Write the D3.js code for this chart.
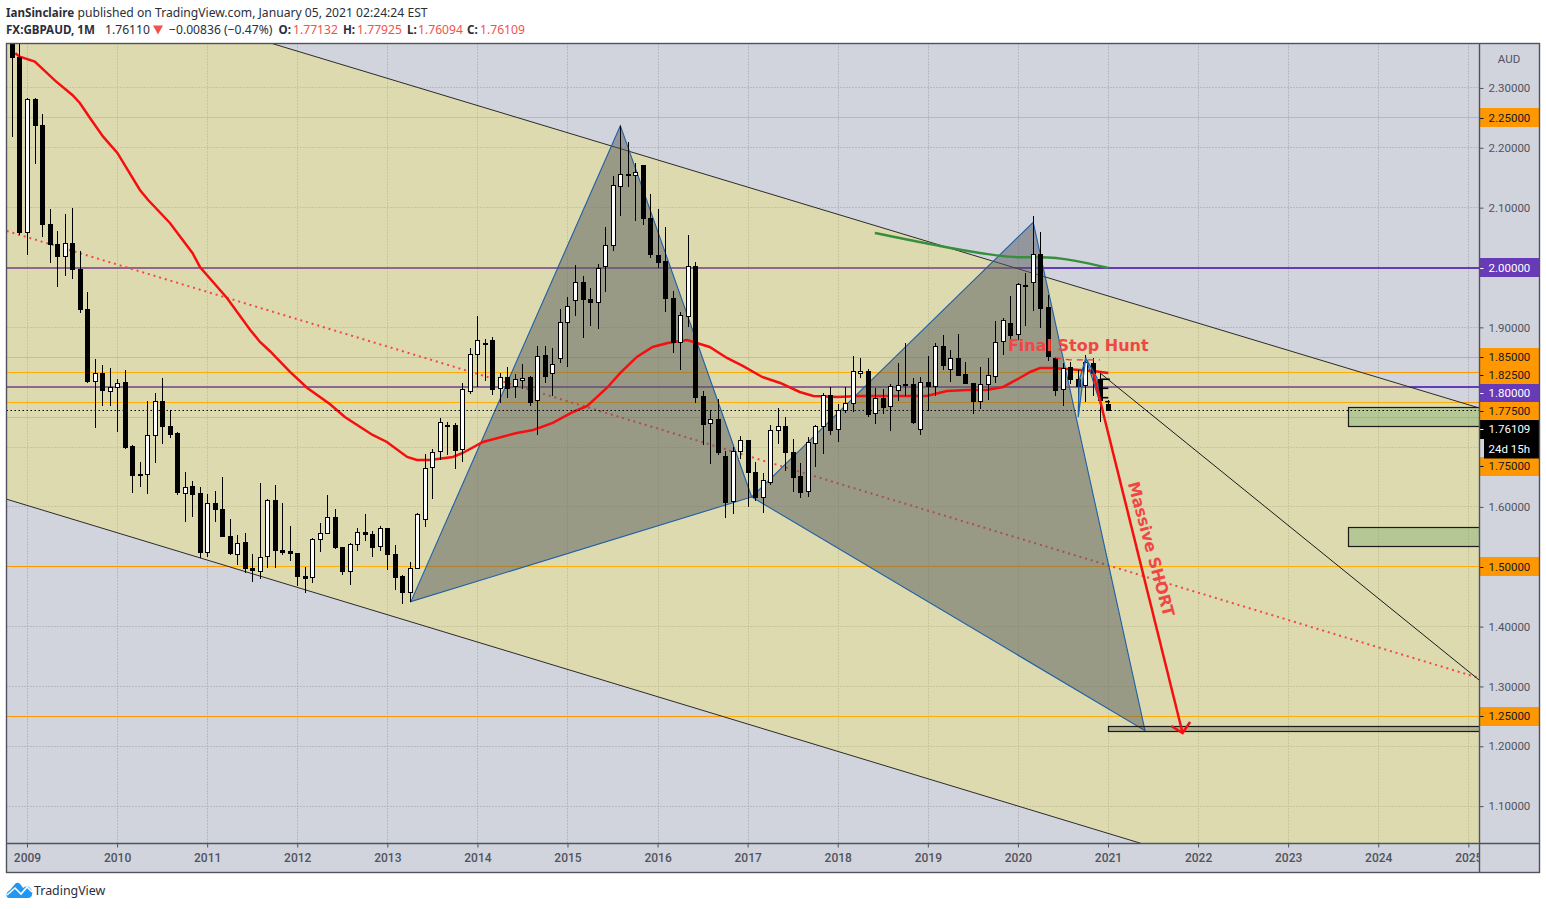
<!DOCTYPE html>
<html><head><meta charset="utf-8">
<style>html,body{margin:0;padding:0;background:#fff}svg{display:block}</style>
<script src="https://cdn.jsdelivr.net/npm/d3@7/dist/d3.min.js"></script>
</head><body><svg id="c" width="1546" height="909"></svg>
<script>
// Monthly bars, first bar Nov 2008 (month index -2; index 0 = Jan 2009)
const firstMonth = -2;
const opens = [2.3969,2.3513,
2.0582,2.2811,2.2376,2.0722,2.0388,2.0181,2.0405,1.9970,1.9302,1.8092,1.8233,1.7942,
1.8009,1.8088,1.7018,1.6550,1.6539,1.7197,1.7765,1.7352,1.7230,1.6238,1.6350,1.6228,
1.5236,1.6061,1.5961,1.5510,1.5225,1.5409,1.4975,1.4935,1.5169,1.6111,1.5281,1.5259,
1.5225,1.4846,1.4824,1.5459,1.5560,1.5827,1.5326,1.4918,1.5376,1.5576,1.5548,1.5336,
1.5643,1.5214,1.4846,1.4567,1.4968,1.5793,1.6672,1.6923,1.7361,1.7369,1.6956,1.7925,
1.8550,1.8731,1.8789,1.7976,1.8166,1.8009,1.8133,1.8171,1.7798,1.8534,1.8233,1.8477,
1.9085,1.9453,1.9753,1.9469,1.9419,2.0021,2.0372,2.1357,2.1554,2.1558,2.1708,2.0823,
2.0209,2.0104,1.9486,1.8751,1.9179,2.0026,1.7848,1.7397,1.7469,1.6851,1.6088,1.6930,
1.7113,1.6579,1.6161,1.6412,1.7280,1.7352,1.6918,1.6517,1.6255,1.7057,1.7341,1.7870,
1.7291,1.7608,1.7725,1.8226,1.8271,1.7565,1.7820,1.7675,1.7942,1.8049,1.8049,1.7297,
1.8083,1.8009,1.8684,1.8293,1.8489,1.8221,1.8066,1.7765,1.8049,1.8199,1.8767,1.9073,
1.8878,1.9700,1.9747,2.0226,1.9336,1.8483,1.7965,1.8333,1.8138,1.8026,1.8400,1.8138,
1.77132];
const highs = [2.4136,2.3969,
2.2828,2.2833,2.2565,2.0978,2.0610,2.0894,2.0995,2.0276,1.9591,1.8467,1.8366,1.8316,
1.8133,1.8288,1.7027,1.6746,1.7765,1.7899,1.8149,1.7615,1.7247,1.6584,1.6433,1.6333,
1.6216,1.6266,1.6500,1.5799,1.5531,1.5560,1.5209,1.6400,1.6128,1.6367,1.6061,1.5682,
1.5230,1.4997,1.5481,1.5727,1.6200,1.5961,1.5336,1.5393,1.5643,1.5882,1.5598,1.5682,
1.5648,1.5364,1.4863,1.5075,1.5894,1.6880,1.6963,1.7486,1.7424,1.7408,1.8076,1.8651,
1.9190,1.8801,1.8834,1.8233,1.8343,1.8221,1.8388,1.8188,1.8689,1.8689,1.8651,1.9302,
1.9513,2.0042,1.9859,1.9658,2.0054,2.0677,2.1529,2.2370,2.2102,2.1742,2.1713,2.1229,
2.0978,2.0677,1.9603,1.9252,2.0544,2.0087,1.7937,1.7620,1.7798,1.6940,1.7006,1.7185,
1.7118,1.6751,1.6562,1.7369,1.7653,1.7498,1.7135,1.6729,1.7174,1.7369,1.7899,1.7999,
1.7720,1.7999,1.8522,1.8483,1.8300,1.7982,1.7966,1.8049,1.8400,1.8734,1.8149,1.8176,
1.8522,1.8734,1.8873,1.8622,1.8890,1.8417,1.8071,1.8333,1.8483,1.9107,1.9162,1.9524,
1.9737,1.9909,2.0861,2.0594,1.9541,1.8510,1.8400,1.8422,1.8288,1.8539,1.8483,1.8238,
1.77925];
const lows = [2.2186,2.0544,
2.0214,2.1735,2.0515,2.0081,1.9680,1.9864,1.9813,1.9245,1.8066,1.7324,1.7687,1.7687,
1.7257,1.6973,1.6238,1.6338,1.6221,1.6739,1.7057,1.7152,1.6195,1.5753,1.5837,1.5142,
1.5164,1.5753,1.5493,1.5192,1.5030,1.4891,1.4751,1.4791,1.4985,1.4985,1.5197,1.5102,
1.4679,1.4557,1.4724,1.5252,1.5560,1.5292,1.4863,1.4701,1.5269,1.5436,1.5169,1.5269,
1.4946,1.4612,1.4383,1.4407,1.4968,1.5670,1.6138,1.6784,1.6868,1.6639,1.6756,1.7887,
1.7999,1.8109,1.7870,1.7732,1.7815,1.7815,1.7971,1.7687,1.7202,1.8071,1.7854,1.8410,
1.8343,1.9195,1.8828,1.9028,1.8978,1.9591,2.0281,2.0866,2.1351,2.0783,2.0716,2.0159,
1.9997,1.9262,1.8577,1.8293,1.9012,1.7742,1.7035,1.6722,1.6873,1.5815,1.5887,1.6801,
1.6004,1.6104,1.5904,1.6372,1.7057,1.6605,1.6255,1.6154,1.6171,1.6672,1.6885,1.7202,
1.7090,1.7575,1.7591,1.8159,1.7503,1.7386,1.7553,1.7269,1.7770,1.7854,1.7386,1.7207,
1.7608,1.7854,1.8288,1.8092,1.8204,1.8066,1.7553,1.7636,1.7787,1.8066,1.8539,1.8778,
1.8789,1.9023,1.9274,1.8985,1.8443,1.7854,1.7692,1.8054,1.7787,1.7758,1.7859,1.7424,
1.76094];
const closes = [2.3513,2.0582,
2.2811,2.2370,2.0716,2.0382,2.0181,2.0405,1.9970,1.9302,1.8092,1.8233,1.7942,1.8009,
1.8076,1.7006,1.6539,1.6539,1.7197,1.7765,1.7341,1.7219,1.6238,1.6338,1.6221,1.5236,
1.6061,1.5961,1.5503,1.5225,1.5403,1.4968,1.4938,1.5169,1.6111,1.5269,1.5252,1.5219,
1.4835,1.4818,1.5459,1.5560,1.5827,1.5319,1.4918,1.5376,1.5576,1.5543,1.5336,1.5643,
1.5202,1.4835,1.4584,1.4975,1.5877,1.6646,1.6923,1.7414,1.7374,1.6956,1.7965,1.8550,
1.8784,1.8739,1.7976,1.8166,1.7976,1.8133,1.8159,1.7753,1.8527,1.8176,1.8383,1.9085,
1.9352,1.9753,1.9463,1.9412,1.9987,2.0372,2.1374,2.1558,2.1558,2.1601,2.0816,2.0214,
2.0097,1.9479,1.8744,1.9202,2.0021,1.7842,1.7374,1.7464,1.6923,1.6088,1.6930,1.7113,
1.6572,1.6161,1.6445,1.7280,1.7347,1.6923,1.6505,1.6255,1.7080,1.7347,1.7865,1.7286,
1.7615,1.7732,1.8266,1.8266,1.7553,1.7815,1.7675,1.8016,1.8032,1.8026,1.7419,1.8083,
1.8009,1.8684,1.8360,1.8483,1.8209,1.8076,1.7758,1.8049,1.8199,1.8761,1.9118,1.8878,
1.9720,1.9703,2.0221,1.9329,1.8510,1.7954,1.8316,1.8126,1.8026,1.8417,1.8233,1.7787,
1.76109];

// EMA: month index and price
const emaMonths = [-1.6,-1,1,3.7,6,7,8.35,10.1,12,15,16.1,19,22,23,26.6,29.7,31,32.3,35,37.3,40.3,42.3,46,47.9,50.6,51.9,53.6,56.7,58,60.7,65.2,67.4,70,72.7,74.6,77.2,79,81.2,83.3,85.3,87.9,90.9,93.2,95.3,97.9,100.3,102.9,104.7,107.9,110.9,117.2,119.8,122.5,125.2,127.8,130,132.2,133.6,134.9,136.6,142,144];
const emaValues = [2.3579,2.3523,2.3439,2.3122,2.2883,2.2749,2.2498,2.2186,2.1914,2.1295,2.1128,2.0744,2.0243,2.0009,1.9491,1.8956,1.8756,1.8605,1.8255,1.7987,1.7720,1.7503,1.7202,1.7085,1.6834,1.6784,1.6784,1.6834,1.6901,1.7085,1.7235,1.7286,1.7403,1.7586,1.7687,1.7987,1.8238,1.8505,1.8672,1.8739,1.8789,1.8672,1.8489,1.8355,1.8171,1.8071,1.7920,1.7854,1.7837,1.7854,1.7854,1.7854,1.7937,1.7954,1.7954,1.8004,1.8154,1.8254,1.8321,1.8321,1.8271,1.8238];
const greenMonths = [112.9,120.2,126.9,132.2,134.9,144];
const greenValues = [2.0577,2.0393,2.0243,2.0171,2.0171,1.9992];

// Drawing tools: [month index, price]
const channelFill = [[-2.84,2.5085],[193.4,1.7653],[193.4,0.8664],[-2.84,1.6132]];
const channelUpper = [[-2.84,2.5085],[193.4,1.7653]];
const channelLower = [[-2.84,1.6132],[193.4,0.8664]];
const channelMid = [[-2.74,2.0610],[193.4,1.3142]];
const patternLeft = [[51.1,1.4417],[79,2.2370],[96.5,1.6166]];
const patternRight = [[96.5,1.6166],[134,2.0756],[148.9,1.2261]];
const smallLeft = [[140.1,1.8104],[140,1.7503],[141,1.8489]];
const smallRight = [[141,1.8489],[143,1.7703],[142.5,1.8154]];
const thinLine = [[142.9,1.8238],[193.4,1.3108]];
const arrowShaft = [[142,1.8238],[153.9,1.2223]];
const arrowHead = [[152.4,1.2340],[153.9,1.2223],[154.9,1.2407]];
const stopDash = [[136.9,1.8489],[138.9,1.8455],[142.9,1.8455]];
const stubs = [[[143,1.8133],[144.2,1.8133]],[[143,1.7982],[144,1.7982]],[[143,1.7825],[144,1.7825]],[[143.6,1.7758],[144.2,1.7758]]];
const boxes = [[176,1.7665,1.7347],[176,1.5660,1.5343],[144,1.2335,1.2252]];
const boxFills = ["rgba(120,170,110,.4)","rgba(120,170,110,.4)","rgba(70,75,80,.3)"];

const orangeLevels = [2.25,1.85,1.825,1.775,1.75,1.5,1.25];
const orangeOpacity = [0.6,0.75,1,1,0.75,1,1];
const purpleLevels = [2.0,1.8];
const lastPrice = 1.76109;
const gridPrices = [2.3,2.2,2.1,1.9,1.7,1.6,1.4,1.3,1.2,1.1];
const plainTicks = [2.3,2.2,2.1,1.9,1.6,1.4,1.3,1.2,1.1];
const years = [2009,2010,2011,2012,2013,2014,2015,2016,2017,2018,2019,2020,2021,2022,2023,2024,2025];
const tagPrices = [2.25,2.0,1.85,1.825,1.8,1.775,1.76109,1.75,1.5,1.25];

const L=6.5,R=1479.5,T=43.5,B=843.5,RR=1539.5,BB=872.5;
const x = d3.scaleLinear().domain([0,192]).range([27.3,1468.6]);
const y = d3.scaleLinear().domain([2,1.1]).range([267.5,806.15]);
const svg = d3.select("#c");
const sans = "Roboto, sans-serif";
const AXC = "#50535e";
const rowY = v => Math.floor(y(v))+.5;

svg.append("defs").append("clipPath").attr("id","pane").append("rect").attr("x",L).attr("y",T).attr("width",R-L).attr("height",B-T);
svg.select("defs").append("clipPath").attr("id","xaxis").append("rect").attr("x",L).attr("y",B).attr("width",R-L).attr("height",BB-B);

svg.append("rect").attr("x",L).attr("y",T).attr("width",RR-L).attr("height",BB-T).attr("fill","#d1d4dc");
const p = svg.append("g").attr("clip-path","url(#pane)");

// grid
p.append("g").selectAll("line").data(gridPrices).join("line").attr("x1",L).attr("x2",R)
 .attr("y1",rowY).attr("y2",rowY).attr("stroke","#9b9ea8").attr("stroke-dasharray","1,2");
p.append("g").selectAll("line").data(years).join("line").attr("y1",T).attr("y2",B)
 .attr("x1",d=>Math.round(x((d-2009)*12)-.3)+.5).attr("x2",d=>Math.round(x((d-2009)*12)-.3)+.5).attr("stroke","#9b9ea8").attr("stroke-dasharray","1,2");

// level lines (under the channel fill)
p.append("g").selectAll("line").data(orangeLevels).join("line").attr("x1",L).attr("x2",R)
 .attr("y1",rowY).attr("y2",rowY).attr("stroke","#ff9800").attr("stroke-width",1)
 .attr("stroke-opacity",(d,i)=>orangeOpacity[i]);
p.append("g").selectAll("line").data(purpleLevels).join("line").attr("x1",L).attr("x2",R)
 .attr("y1",d=>Math.round(y(d))).attr("y2",d=>Math.round(y(d))).attr("stroke","#673ab7").attr("stroke-width",2);

const line = d3.line().x(d=>x(d[0])).y(d=>y(d[1]));
const closed = pts => line(pts)+"Z";

// channel
p.append("path").attr("d",closed(channelFill)).attr("fill","rgba(255,236,36,.25)");
p.append("path").attr("d",line(channelUpper)).attr("stroke","#2b2b2b").attr("fill","none").attr("stroke-width",1);
p.append("path").attr("d",line(channelLower)).attr("stroke","#2b2b2b").attr("fill","none").attr("stroke-width",1);
p.append("path").attr("d",line(channelMid)).attr("stroke","#f44848").attr("fill","none").attr("stroke-width",2).attr("stroke-dasharray","2,3.9");

// harmonic pattern
for (const t of [patternLeft,patternRight]) {
  p.append("path").attr("d",closed(t)).attr("fill","rgba(86,90,94,.5)").attr("stroke","#1f5fa8").attr("stroke-width",1.1);
}

// boxes
boxes.forEach((b,i)=>{
  p.append("rect").attr("x",Math.round(x(b[0]))+.5).attr("y",Math.round(y(b[1]))+.5)
   .attr("width",R+5-x(b[0])).attr("height",Math.round(y(b[2])-y(b[1])))
   .attr("fill",boxFills[i]).attr("stroke","#1a1a1a").attr("stroke-width",1.2);
});

p.append("path").attr("d",line(thinLine)).attr("stroke","#1a1a1a").attr("fill","none").attr("stroke-width",1);
p.append("path").attr("d",line(emaMonths.map((m,i)=>[m,emaValues[i]])))
 .attr("stroke","#f50f0f").attr("fill","none").attr("stroke-width",2.5);
p.append("path").attr("d",d3.line().x(d=>x(d[0])).y(d=>y(d[1])).curve(d3.curveMonotoneX)(greenMonths.map((m,i)=>[m,greenValues[i]])))
 .attr("stroke","#388e3c").attr("fill","none").attr("stroke-width",2.4);

// price line
p.append("line").attr("x1",L).attr("x2",R).attr("y1",rowY(lastPrice)).attr("y2",rowY(lastPrice))
 .attr("stroke","#000").attr("stroke-dasharray","1.5,2.5");

// candles
const bars = d3.range(opens.length);
const cx = i => Math.round(x(i+firstMonth)-.3)+.5;
const cg = p.append("g").attr("shape-rendering","crispEdges");
cg.selectAll("line").data(bars).join("line")
 .attr("x1",cx).attr("x2",cx).attr("y1",i=>y(highs[i])).attr("y2",i=>y(lows[i])).attr("stroke","#000");
cg.selectAll("rect").data(bars).join("rect")
 .attr("x",i=>cx(i)-2)
 .attr("y",i=>Math.round(y(Math.max(opens[i],closes[i])))+.5)
 .attr("width",4)
 .attr("height",i=>Math.max(1,Math.round(Math.abs(y(opens[i])-y(closes[i])))))
 .attr("fill",i=>closes[i]>=opens[i]?"#fff":"#000").attr("stroke","#000");

// stubs and the small pattern, above the bars
p.append("g").selectAll("path").data(stubs).join("path").attr("d",line).attr("stroke","#000").attr("stroke-width",1.6).attr("fill","none");
for (const t of [smallLeft,smallRight]) {
  p.append("path").attr("d",closed(t)).attr("fill","rgba(70,90,130,.35)").attr("stroke","#1f5fa8").attr("stroke-width",1.2);
}
p.append("path").attr("d",line(stopDash)).attr("stroke","#f23030").attr("fill","none").attr("stroke-width",1.3).attr("stroke-dasharray","6,5");
p.append("path").attr("d",line(arrowShaft)).attr("stroke","#f50f0f").attr("fill","none").attr("stroke-width",2.5);
p.append("path").attr("d",line(arrowHead)).attr("stroke","#f50f0f").attr("fill","none").attr("stroke-width",2.5);

const annoFont = "'DejaVu Sans', sans-serif";
p.append("text").text("Final Stop Hunt").attr("x",x(140)).attr("y",y(1.8689)).attr("text-anchor","middle").attr("dominant-baseline","central")
 .attr("font-family",annoFont).attr("font-weight","bold").attr("font-size",16).attr("fill","#f04646");
p.append("text").text("Massive SHORT").attr("text-anchor","middle").attr("dominant-baseline","central")
 .attr("transform",`translate(${x(149.7)},${y(1.5296)}) rotate(75)`)
 .attr("font-family",annoFont).attr("font-weight","bold").attr("font-size",16).attr("fill","#f04646");

// x axis
const xAxis = d3.axisBottom(x).tickValues(years.map(v=>(v-2009)*12)).tickFormat(m=>String(2009+m/12)).tickSizeOuter(0).tickSize(4).tickPadding(6);
const xg = svg.append("g").attr("clip-path","url(#xaxis)").append("g").attr("transform",`translate(-.3,${B})`).call(xAxis);
xg.select(".domain").remove();
xg.selectAll("line").attr("stroke",AXC);
xg.selectAll("text").attr("font-family",sans).attr("font-size",12).attr("font-weight",500).attr("fill",AXC);

// y axis plain ticks
const yAxis = d3.axisRight(y).tickValues(plainTicks).tickFormat(d3.format(".5f")).tickSize(4).tickPadding(5);
const yg = svg.append("g").attr("transform",`translate(${R},0)`).call(yAxis);
yg.select(".domain").remove();
yg.selectAll("line").attr("stroke",AXC);
yg.selectAll("text").attr("font-family",sans).attr("font-size",11.5).attr("fill",AXC);

svg.append("text").text("AUD").attr("x",1509).attr("y",58.5).attr("text-anchor","middle").attr("dominant-baseline","central")
 .attr("font-family",sans).attr("font-size",11.5).attr("fill",AXC);

// price tags stacked so that they do not overlap
const tagH = 18;
let cursor = -Infinity; const placed = [];
tagPrices.forEach(v=>{
  const yy = Math.max(y(v),cursor);
  placed.push({v,yy});
  cursor = yy+tagH;
  if (v===lastPrice) cursor += tagH+1;   // the countdown sits under the last price
});
const tagBg = v => v===lastPrice?"#000":purpleLevels.includes(v)?"#673ab7":"#ff9800";
const tagFg = v => (v===lastPrice||purpleLevels.includes(v))?"#fff":"#131722";
const tg = svg.append("g");
const tagOrder = placed.slice().sort((a,b)=>(a.v===lastPrice)-(b.v===lastPrice));
tagOrder.forEach(d=>{
  tg.append("rect").attr("x",R).attr("y",Math.round(d.yy-9.5)).attr("width",RR-R).attr("height",19).attr("fill",tagBg(d.v));
});
const lastTag = placed.find(d=>d.v===lastPrice);
tg.append("rect").attr("x",1484).attr("y",Math.round(lastTag.yy+10)).attr("width",RR-1484).attr("height",19.5).attr("fill","#000");
placed.forEach(d=>{
  tg.append("line").attr("x1",R).attr("x2",R+4).attr("y1",Math.round(d.yy)+.5).attr("y2",Math.round(d.yy)+.5).attr("stroke",tagFg(d.v));
  tg.append("text").text(d3.format(".5f")(d.v)).attr("x",R+9).attr("y",d.yy).attr("dominant-baseline","central")
    .attr("font-family",sans).attr("font-size",11.5).attr("fill",tagFg(d.v));
});
tg.append("text").text("24d 15h").attr("x",R+9).attr("y",lastTag.yy+19.5).attr("dominant-baseline","central")
  .attr("font-family",sans).attr("font-size",11.5).attr("fill","#fff");

// frame
const frame = svg.append("g").attr("fill","none").attr("stroke",AXC).attr("stroke-width",1.4);
frame.append("rect").attr("x",L).attr("y",T).attr("width",RR-L).attr("height",BB-T);
frame.append("line").attr("x1",L).attr("x2",RR).attr("y1",B).attr("y2",B);
frame.append("line").attr("x1",R).attr("x2",R).attr("y1",T).attr("y2",BB);

// header
const hf = "'Noto Sans', sans-serif";
const head = (t,xx,yy,o={})=>svg.append("text").text(t).attr("x",xx).attr("y",yy).attr("font-family",hf).attr("font-size",o.s||12.15)
  .attr("font-weight",o.b?"bold":"normal").attr("fill",o.c||"#2a2e39");
head("IanSinclaire",6,17,{b:1,s:11.6});
head("published on TradingView.com, January 05, 2021 02:24:24 EST",77.5,17);
head("FX:GBPAUD, 1M",6,34,{b:1,s:11.6});
head("1.76110",105,34);
svg.append("path").attr("d","M153 25.5H163L158 34.5Z").attr("fill","#ef5350");
head("−0.00836 (−0.47%)",169,34);
const ohlc = [["O:",278.5,"1.77132",293],["H:",343,"1.77925",357],["L:",407,"1.76094",418],["C:",467,"1.76109",480]];
ohlc.forEach(r=>{head(r[0],r[1],34,{b:1,s:11.6});head(r[2],r[3],34,{c:"#ef5350"});});

// logo
svg.append("path").attr("d","M6.5 896Q6 892 10 890L15 884Q18 881 21 885L23 888Q26 885 29 887Q33 890 32 895Q31 898 28 898L9 898Q7 898 6.5 896Z").attr("fill","#2196f3");
svg.append("path").attr("d","M7 895L15 888L21 894L27 887L32 892").attr("fill","none").attr("stroke","#fff").attr("stroke-width",1.6);
svg.append("text").text("TradingView").attr("x",34).attr("y",895).attr("font-family",hf).attr("font-size",12.4).attr("fill","#2a2e39");
</script></body></html>
